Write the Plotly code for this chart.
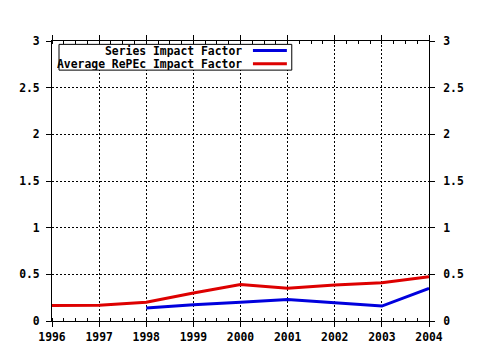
import plotly.graph_objects as go

years = [1996, 1997, 1998, 1999, 2000, 2001, 2002, 2003, 2004]
series_names = ["Series Impact Factor", "Average RePEc Impact Factor"]
series_if = [None, None, 0.14, 0.175, 0.20, 0.23, 0.195, 0.16, 0.35]
average_if = [0.165, 0.17, 0.20, 0.30, 0.39, 0.35, 0.385, 0.41, 0.475]
colors = ["#0000dd", "#dd0000"]
y_ticks = [0, 0.5, 1, 1.5, 2, 2.5, 3]
y_labels = ["0", "0.5", "1", "1.5", "2", "2.5", "3"]

FONT = dict(family="DejaVu Sans Mono", size=11.4, color="black", weight="bold")

fig = go.Figure()
fig.add_trace(go.Scatter(x=years, y=series_if, mode="lines", name=series_names[0],
                         line=dict(color=colors[0], width=3)))
fig.add_trace(go.Scatter(x=years, y=average_if, mode="lines", name=series_names[1],
                         line=dict(color=colors[1], width=3)))
# invisible helper trace so the mirrored top/right axes are drawn
fig.add_trace(go.Scatter(x=years, y=average_if, mode="lines", line=dict(width=0),
                         opacity=0, hoverinfo="skip", xaxis="x2", yaxis="y2", showlegend=False))

common_x = dict(range=[1996, 2004], tickvals=years, showline=True, linecolor="black",
                linewidth=1, ticks="outside", ticklen=5, tickcolor="black", zeroline=False,
                automargin=False,
                minor=dict(dtick=0.25, ticks="inside", ticklen=3, tickcolor="black", showgrid=False))
common_y = dict(range=[0, 3], tickvals=y_ticks, ticktext=y_labels, showline=True,
                linecolor="black", linewidth=1, ticks="outside", ticklen=5, tickcolor="black",
                zeroline=False, automargin=False)

fig.update_layout(
    width=480, height=350,
    margin=dict(l=52, r=51, t=41, b=29, autoexpand=False),
    paper_bgcolor="white", plot_bgcolor="white",
    font=FONT,
    showlegend=False,
    xaxis=dict(**common_x, side="bottom", showgrid=True, gridcolor="black",
               griddash="2px,2px", gridwidth=1, tickfont=FONT, ticklabelstandoff=0),
    xaxis2=dict(**common_x, side="top", overlaying="x", showgrid=False, showticklabels=False),
    yaxis=dict(**common_y, side="left", showgrid=True, gridcolor="black",
               griddash="2px,2px", gridwidth=1, tickfont=FONT, ticklabelstandoff=4),
    yaxis2=dict(**common_y, side="right", overlaying="y", showgrid=False, tickfont=FONT,
                ticklabelstandoff=6),
)

# Legend box drawn to mimic the original (text right-aligned, sample line on the right)
fig.add_shape(type="rect", xref="paper", yref="paper", x0=0.0186, x1=0.636, y0=0.896, y1=0.988,
              line=dict(color="black", width=1), fillcolor="white", layer="above")
row_y = [0.966, 0.919]
for name, col, yy in zip(series_names, colors, row_y):
    fig.add_annotation(text=name, xref="paper", yref="paper", x=0.509, y=yy,
                       xanchor="right", yanchor="middle", showarrow=False, font=FONT,
                       height=12)
    fig.add_shape(type="line", xref="paper", yref="paper", x0=0.533, x1=0.623, y0=yy, y1=yy,
                  line=dict(color=col, width=3), layer="above")

fig.write_html("out.html")
